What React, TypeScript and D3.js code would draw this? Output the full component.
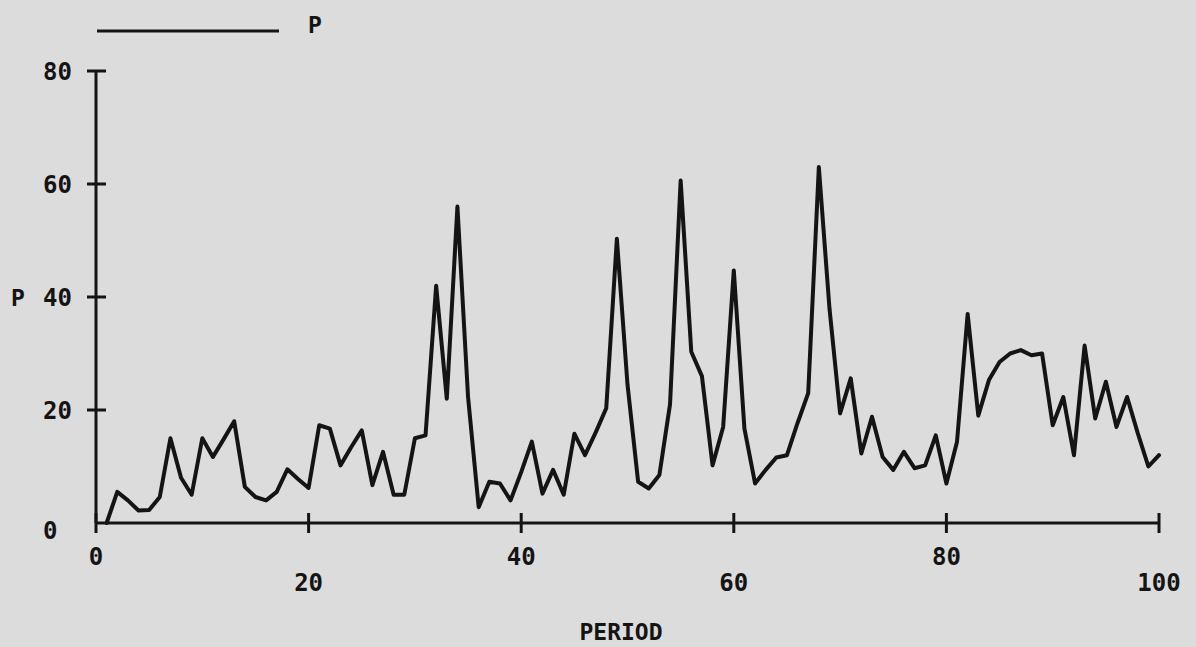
import { useMemo } from 'react';
import * as d3 from 'd3';

// P per period (periods 1..100)
const periods: number[] = d3.range(1, 101);
const pValues: number[] = [
  0, 5.5, 4, 2.2, 2.3, 4.6, 15, 8, 5, 15,
  11.7, 14.8, 18, 6.4, 4.6, 4, 5.5, 9.5, 7.8, 6.2,
  17.3, 16.7, 10.2, 13.4, 16.4, 6.7, 12.6, 5, 5, 15,
  15.5, 42, 22, 56, 22.3, 2.8, 7.3, 7, 4, 9,
  14.4, 5.2, 9.4, 5, 15.8, 12, 16, 20.3, 50.3, 24.5,
  7.3, 6.1, 8.5, 21, 60.6, 30.3, 26, 10.2, 17, 44.7,
  16.7, 7, 9.4, 11.6, 12, 17.7, 23, 63, 38, 19.4,
  25.6, 12.3, 18.8, 11.7, 9.4, 12.6, 9.7, 10.2, 15.5, 7,
  14.4, 37, 19, 25.3, 28.5, 30, 30.6, 29.7, 30, 17.3,
  22.3, 12, 31.4, 18.5, 25, 17, 22.3, 15.9, 10, 12,
];

const xTicks: number[] = [0, 20, 40, 60, 80, 100];
const yTicks: number[] = [0, 20, 40, 60, 80];

const seriesName = 'P';
const xTitle = 'PERIOD';
const yTitle = 'P';

const width = 1196;
const height = 647;
const ink = '#141414';
const paper = '#dcdcdc';
const font = "'DejaVu Sans Mono', monospace";

export default function App() {
  const x = d3.scaleLinear().domain([0, 100]).range([96, 1159]);
  const y = d3.scaleLinear().domain([0, 80]).range([523, 71]);

  const path = useMemo(() => {
    const line = d3.line<number>()
      .x((_, i) => x(periods[i]))
      .y(d => y(d));
    return line(pValues) || '';
  }, []);

  return (
    <svg
      width={width}
      height={height}
      style={{ position: 'absolute', left: 0, top: 0, display: 'block' }}
    >
      <rect width={width} height={height} fill={paper} />

      {/* legend */}
      <line x1={97} x2={279} y1={31} y2={31} stroke={ink} strokeWidth={3} />
      <text x={315} y={33} fontFamily={font} fontWeight="bold" fontSize={23}
        textAnchor="middle" fill={ink}>{seriesName}</text>

      {/* y axis */}
      <line x1={x(0)} x2={x(0)} y1={y(80)} y2={y(0)} stroke={ink} strokeWidth={3} />
      {yTicks.map(t => (
        <g key={'y' + t}>
          {t > 0 && (
            <line x1={x(0) - 9} x2={x(0) + 10} y1={y(t)} y2={y(t)} stroke={ink} strokeWidth={3} />
          )}
          <text x={43} y={y(t) + (t === 0 ? 16 : 9)} fontFamily={font} fontWeight="bold"
            fontSize={24} fill={ink}>{t}</text>
        </g>
      ))}
      <text x={18} y={306} fontFamily={font} fontWeight="bold" fontSize={23}
        textAnchor="middle" fill={ink}>{yTitle}</text>

      {/* x axis */}
      <line x1={x(0)} x2={x(100)} y1={y(0)} y2={y(0)} stroke={ink} strokeWidth={3} />
      {xTicks.map((t, i) => (
        <g key={'x' + t}>
          <line x1={x(t)} x2={x(t)} y1={y(0) - 10} y2={y(0) + 10} stroke={ink} strokeWidth={3} />
          <text x={x(t)} y={i % 2 === 0 ? 565 : 591} fontFamily={font} fontWeight="bold"
            fontSize={24} textAnchor="middle" fill={ink}>{t}</text>
        </g>
      ))}
      <text x={621} y={640} fontFamily={font} fontWeight="bold" fontSize={23}
        textAnchor="middle" fill={ink}>{xTitle}</text>

      {/* series */}
      <path d={path} fill="none" stroke={ink} strokeWidth={4}
        strokeLinejoin="round" strokeLinecap="round" />
    </svg>
  );
}
